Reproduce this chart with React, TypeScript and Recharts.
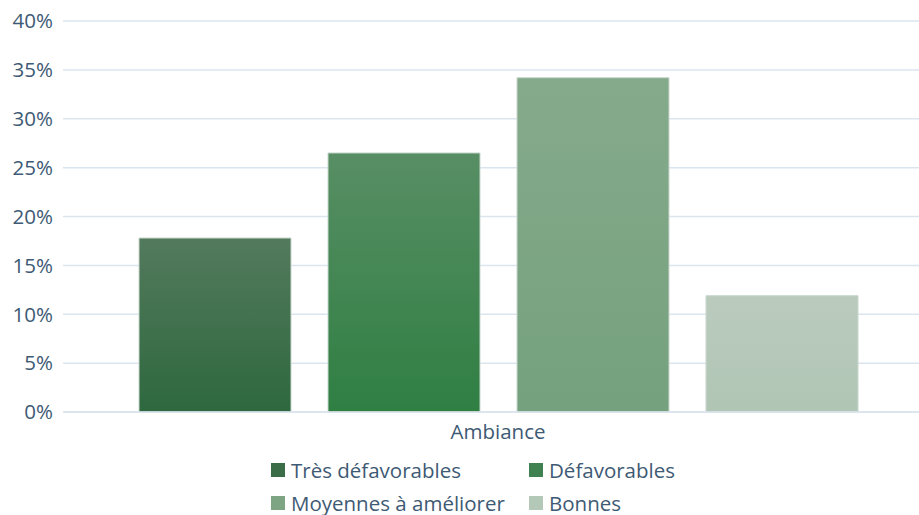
import { BarChart, Bar, XAxis, YAxis, CartesianGrid, Legend } from 'recharts'

const CATEGORIES = ['Ambiance']
const SERIES_NAMES = ['Très défavorables', 'Défavorables', 'Moyennes à améliorer', 'Bonnes']
const SERIES_VALUES = [17.8, 26.5, 34.2, 11.9]
const Y_TICKS = [0, 5, 10, 15, 20, 25, 30, 35, 40]

const GRADIENTS = [
  ['#537a5d', '#2e683e'],
  ['#588e64', '#2f7f43'],
  ['#85aa8b', '#75a17e'],
  ['#bacbbe', '#b0c5b4'],
]
const SWATCH = ['#3a6d48', '#3f8150', '#7da584', '#b4c8b8']

const TEXT = '#3e5a74'
const GRID = '#dbe5ee'
const FONT = '"Open Sans", Lato, sans-serif'

const data = CATEGORIES.map(c => {
  const row: Record<string, string | number> = { name: c }
  SERIES_NAMES.forEach((s, i) => {
    row[s] = SERIES_VALUES[i]
  })
  return row
})

function LegendGrid() {
  return (
    <div
      style={{
        display: 'grid',
        gridTemplateColumns: '258px 200px',
        rowGap: 8,
        marginLeft: 271,
        paddingTop: 8,
        fontFamily: FONT,
        fontSize: 20.5,
        color: TEXT,
      }}
    >
      {SERIES_NAMES.map((s, i) => (
        <div key={s} style={{ display: 'flex', alignItems: 'center', height: 25, whiteSpace: 'nowrap' }}>
          <span
            style={{
              width: 14,
              height: 14,
              background: SWATCH[i],
              display: 'inline-block',
              marginRight: 6,
              flexShrink: 0,
            }}
          />
          {s}
        </div>
      ))}
    </div>
  )
}

export default function App() {
  return (
    <div style={{ position: 'absolute', left: 0, top: 0, width: 919, height: 515, overflow: 'hidden', background: '#fff' }}>
      <BarChart
        width={940}
        height={515}
        data={data}
        margin={{ top: 21, right: 7, bottom: 0, left: 0 }}
        barCategoryGap={75}
        barGap={37}
      >
        <defs>
          {GRADIENTS.map((g, i) => (
            <linearGradient key={i} id={`grad${i}`} x1="0" y1="0" x2="0" y2="1">
              <stop offset="0%" stopColor={g[0]} />
              <stop offset="100%" stopColor={g[1]} />
            </linearGradient>
          ))}
        </defs>
        <CartesianGrid stroke={GRID} strokeWidth={1.5} vertical={false} />
        <XAxis
          dataKey="name"
          height={37}
          tickLine={false}
          axisLine={{ stroke: GRID, strokeWidth: 1.5 }}
          tick={{ fill: TEXT, fontSize: 20.5, fontFamily: FONT }}
          tickMargin={6}
        />
        <YAxis
          width={63}
          domain={[0, 40]}
          ticks={Y_TICKS}
          tickFormatter={(v: number) => `${v}%`}
          tickLine={false}
          axisLine={false}
          tick={{ fill: TEXT, fontSize: 20.5, fontFamily: FONT }}
          tickMargin={4}
        />
        <Legend
          verticalAlign="bottom"
          height={66}
          content={() => <LegendGrid />}
          wrapperStyle={{ left: 0, width: 919 }}
        />
        {SERIES_NAMES.map((s, i) => (
          <Bar
            key={s}
            dataKey={s}
            name={s}
            barSize={152}
            fill={`url(#grad${i})`}
            stroke="#c9d7ce"
            strokeWidth={1}
            isAnimationActive={false}
          />
        ))}
      </BarChart>
    </div>
  )
}
